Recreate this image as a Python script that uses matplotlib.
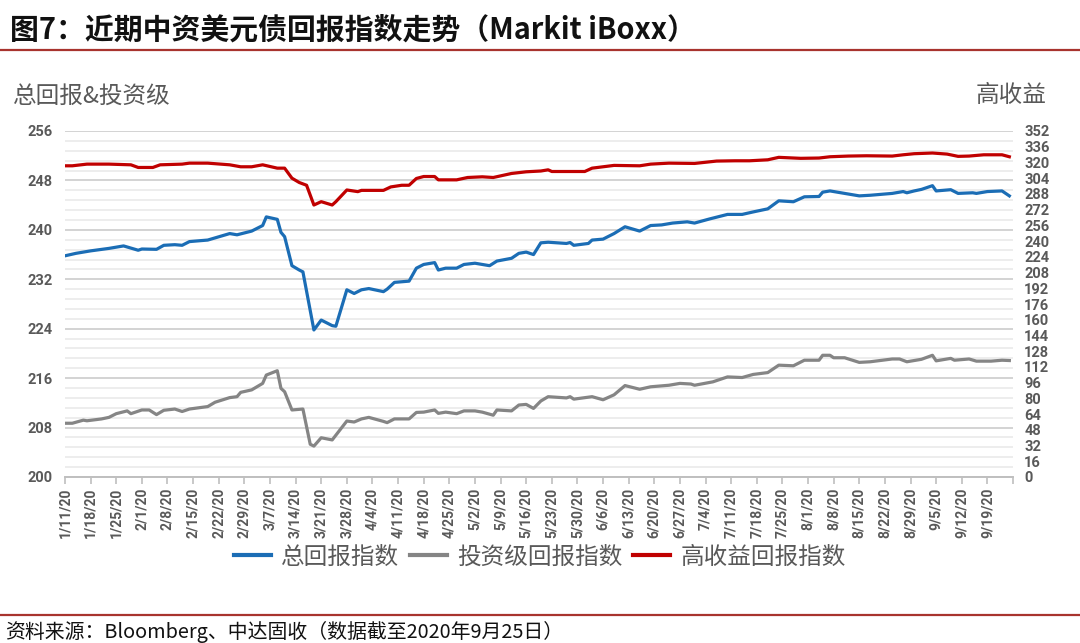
import matplotlib
matplotlib.use('Agg')
import matplotlib.pyplot as plt
import matplotlib.dates as mdates
from matplotlib.lines import Line2D
import pandas as pd
import numpy as np

plt.rcParams['font.family'] = ['Noto Sans CJK SC', 'DejaVu Sans']

# ---------------- data ----------------
total_dates = ["01-11", "01-14", "01-18", "01-23", "01-27", "01-31", "02-01", "02-05", "02-07", "02-10",
               "02-12", "02-14", "02-19", "02-21", "02-25", "02-27", "03-02", "03-05", "03-06", "03-09",
               "03-10", "03-11", "03-13", "03-15", "03-16", "03-19", "03-21", "03-24", "03-25", "03-28",
               "03-30", "04-01", "04-03", "04-07", "04-08", "04-10", "04-14", "04-16", "04-18", "04-21",
               "04-22", "04-24", "04-27", "04-29", "05-02", "05-06", "05-08", "05-12", "05-14", "05-16",
               "05-18", "05-20", "05-22", "05-27", "05-28", "05-29", "06-02", "06-03", "06-06", "06-09",
               "06-12", "06-16", "06-19", "06-22", "06-25", "06-29", "07-01", "07-05", "07-10", "07-14",
               "07-17", "07-21", "07-24", "07-28", "07-31", "08-04", "08-05", "08-07", "08-11", "08-15",
               "08-18", "08-24", "08-27", "08-28", "08-30", "09-01", "09-04", "09-05", "09-09", "09-11",
               "09-15", "09-16", "09-19", "09-23", "09-25"]
total_values = [235.8, 236.2, 236.6, 237.0, 237.4, 236.7, 236.9, 236.85, 237.5, 237.6,
                237.5, 238.1, 238.35, 238.7, 239.4, 239.2, 239.8, 240.7, 242.1, 241.7,
                239.6, 238.9, 234.2, 233.5, 233.2, 223.8, 225.4, 224.5, 224.4, 230.3,
                229.7, 230.3, 230.5, 230.0, 230.4, 231.5, 231.7, 233.8, 234.4, 234.7,
                233.5, 233.8, 233.8, 234.4, 234.6, 234.2, 234.95, 235.4, 236.2, 236.4,
                236.0, 237.9, 238.0, 237.8, 237.95, 237.5, 237.8, 238.35, 238.5, 239.4,
                240.5, 239.8, 240.7, 240.8, 241.1, 241.3, 241.1, 241.75, 242.5, 242.5,
                242.9, 243.4, 244.7, 244.55, 245.35, 245.4, 246.1, 246.3, 245.9, 245.5,
                245.6, 245.9, 246.2, 246.0, 246.3, 246.55, 247.15, 246.3, 246.5, 245.9,
                246.0, 245.9, 246.2, 246.3, 245.5]

ig_dates = ["01-11", "01-13", "01-16", "01-17", "01-21", "01-23", "01-25", "01-28", "01-29", "02-01",
            "02-03", "02-05", "02-07", "02-10", "02-12", "02-14", "02-19", "02-21", "02-25", "02-27",
            "02-28", "03-02", "03-05", "03-06", "03-09", "03-10", "03-11", "03-13", "03-16", "03-18",
            "03-19", "03-21", "03-24", "03-28", "03-30", "04-01", "04-03", "04-07", "04-08", "04-10",
            "04-14", "04-16", "04-18", "04-21", "04-22", "04-24", "04-27", "04-29", "05-02", "05-04",
            "05-07", "05-08", "05-12", "05-14", "05-16", "05-18", "05-20", "05-22", "05-27", "05-28",
            "05-29", "06-03", "06-06", "06-09", "06-12", "06-16", "06-19", "06-24", "06-27", "06-30",
            "07-01", "07-06", "07-10", "07-14", "07-17", "07-21", "07-24", "07-28", "07-31", "08-04",
            "08-05", "08-07", "08-08", "08-11", "08-15", "08-18", "08-24", "08-26", "08-28", "09-01",
            "09-04", "09-05", "09-09", "09-10", "09-14", "09-16", "09-20", "09-23", "09-25"]
ig_values = [208.7, 208.7, 209.2, 209.1, 209.4, 209.65, 210.25, 210.7, 210.25, 210.85,
             210.85, 210.1, 210.8, 211.0, 210.6, 211.0, 211.4, 212.1, 212.85, 213.0,
             213.7, 214.1, 215.15, 216.5, 217.2, 214.35, 213.8, 210.85, 211.0, 205.3,
             205.0, 206.35, 206.0, 209.06, 208.9, 209.4, 209.65, 209.0, 208.8, 209.4,
             209.4, 210.45, 210.5, 210.85, 210.3, 210.5, 210.25, 210.7, 210.7, 210.5,
             210.0, 210.85, 210.7, 211.65, 211.75, 211.1, 212.3, 213.0, 212.8, 213.0,
             212.6, 213.0, 212.5, 213.3, 214.8, 214.2, 214.6, 214.85, 215.15, 215.05,
             214.85, 215.4, 216.2, 216.1, 216.6, 216.9, 218.1, 218.0, 218.9, 218.9,
             219.7, 219.7, 219.3, 219.3, 218.55, 218.65, 219.1, 219.1, 218.65, 219.05,
             219.7, 218.8, 219.2, 218.9, 219.1, 218.75, 218.75, 218.9, 218.85]

hy_dates = ["01-11", "01-13", "01-17", "01-23", "01-29", "01-31", "02-04", "02-06", "02-12", "02-14",
            "02-19", "02-25", "02-28", "03-02", "03-05", "03-09", "03-11", "03-13", "03-15", "03-17",
            "03-19", "03-21", "03-24", "03-25", "03-28", "03-31", "04-01", "04-07", "04-09", "04-12",
            "04-14", "04-16", "04-18", "04-21", "04-22", "04-27", "04-30", "05-04", "05-07", "05-12",
            "05-16", "05-20", "05-22", "05-23", "06-01", "06-03", "06-09", "06-16", "06-19", "06-24",
            "07-01", "07-07", "07-12", "07-16", "07-21", "07-24", "07-30", "08-04", "08-07", "08-12",
            "08-17", "08-24", "08-27", "08-30", "09-04", "09-08", "09-11", "09-14", "09-18", "09-23",
            "09-25"]
hy_values = [316.6, 316.6, 318.3, 318.3, 317.6, 314.9, 314.9, 317.6, 318.3, 319.3,
             319.3, 317.6, 315.6, 315.6, 317.6, 314.2, 314.2, 304.0, 299.6, 296.8,
             276.7, 280.1, 276.7, 280.1, 292.0, 290.3, 291.6, 291.6, 295.1, 296.8,
             296.8, 303.7, 305.7, 305.7, 302.3, 302.3, 304.7, 305.4, 304.7, 308.8,
             310.5, 311.3, 312.5, 310.8, 310.8, 314.2, 317.0, 316.6, 318.3, 319.3,
             319.0, 321.4, 321.7, 321.7, 322.7, 325.2, 324.2, 324.5, 325.8, 326.5,
             326.8, 326.5, 327.8, 328.9, 329.6, 328.5, 326.2, 326.5, 327.8, 327.8,
             325.8]

series_names = ["总回报指数", "投资级回报指数", "高收益回报指数"]
left_ticks = list(range(200, 257, 8))
right_ticks = list(range(0, 353, 16))

# ---------------- style ----------------
C_BLUE = "#1B6DB5"
C_GREY = "#858585"
C_RED = "#C00000"
C_TXT = "#595959"
C_RULE = "#A8342E"
NUMFONT = ["Roboto", "DejaVu Sans"]


def to_dt(lst):
    return pd.to_datetime(["2020-" + s for s in lst])


fig = plt.figure(figsize=(10.8, 6.43), dpi=100)
W, H = 1080, 643
ax = fig.add_axes([65 / W, 1 - 477 / H, 948 / W, 346 / H])
ax2 = ax.twinx()

l1, = ax.plot(to_dt(total_dates), total_values, color=C_BLUE, lw=2.3, solid_joinstyle='round', zorder=3)
l2, = ax.plot(to_dt(ig_dates), ig_values, color=C_GREY, lw=2.3, solid_joinstyle='round', zorder=3)
l3, = ax2.plot(to_dt(hy_dates), hy_values, color=C_RED, lw=2.3, solid_joinstyle='round', zorder=3)

# axes limits
x0 = pd.Timestamp("2020-01-11")
x1 = pd.Timestamp("2020-09-26")
ax.set_xlim(x0, x1)
ax.set_ylim(200, 256)
ax2.set_ylim(0, 352)

# gridlines
ax.set_axisbelow(True)
ax.yaxis.set_minor_locator(matplotlib.ticker.MultipleLocator(1.6))
ax.grid(axis='y', which='major', color='#D0D0D0', lw=1.3, zorder=0)
ax.grid(axis='y', which='minor', color='#ECECEC', lw=1.3, zorder=0)
ax.tick_params(axis='y', which='minor', length=0)

# x ticks
xt = pd.date_range(x0, x1, freq='7D')
xlabels = [f"{d.month}/{d.day}/20" for d in xt]
xlabels[-1] = ""
ax.set_xticks(mdates.date2num(xt), xlabels, rotation=90, fontfamily=NUMFONT,
              fontweight='bold', fontsize=10, color=C_TXT)
ax.tick_params(axis='x', direction='out', length=5, width=1.2, color='#BFBFBF', pad=3)

# y ticks
ax.set_yticks(left_ticks, [str(t) for t in left_ticks], fontfamily=NUMFONT,
              fontweight='bold', fontsize=10.5, color=C_TXT)
ax.tick_params(axis='y', which='major', length=0, pad=9)
ax2.set_yticks(right_ticks, [str(t) for t in right_ticks], fontfamily=NUMFONT,
               fontweight='bold', fontsize=10.5, color=C_TXT)
ax2.tick_params(axis='y', length=0, pad=8)

for a in (ax, ax2):
    for s in ('left', 'right', 'top'):
        a.spines[s].set_visible(False)
ax2.spines['bottom'].set_visible(False)
ax.spines['bottom'].set_color('#BFBFBF')
ax.spines['bottom'].set_linewidth(1.4)

# axis titles
fig.text(13 / W, 1 - 96 / H, "总回报&投资级", fontsize=17, color=C_TXT, ha='left', va='center')
fig.text(1046 / W, 1 - 96 / H, "高收益", fontsize=17, color=C_TXT, ha='right', va='center')

# legend
leg = fig.legend([l1, l2, l3], series_names, loc='center', bbox_to_anchor=(540 / W, 1 - 557 / H),
                 ncol=3, frameon=False, fontsize=17, handlelength=1.55, handletextpad=0.45,
                 columnspacing=0.45, borderaxespad=0)
for t in leg.get_texts():
    t.set_color(C_TXT)
for h in leg.get_lines():
    h.set_linewidth(3)

# title and rules
fig.text(10 / W, 1 - 30 / H, "图7：近期中资美元债回报指数走势（Markit iBoxx）",
         fontsize=20.8, fontweight='bold', color='#111111', ha='left', va='center')
fig.add_artist(Line2D([0, 1], [1 - 50 / H] * 2, transform=fig.transFigure, color=C_RULE, lw=1.6))
fig.add_artist(Line2D([0, 1], [1 - 615 / H] * 2, transform=fig.transFigure, color=C_RULE, lw=1.6))
fig.text(5 / W, 1 - 632 / H, "资料来源：Bloomberg、中达固收（数据截至2020年9月25日）",
         fontsize=14.3, color='#111111', ha='left', va='center')

fig.savefig("out.png", dpi=100)
